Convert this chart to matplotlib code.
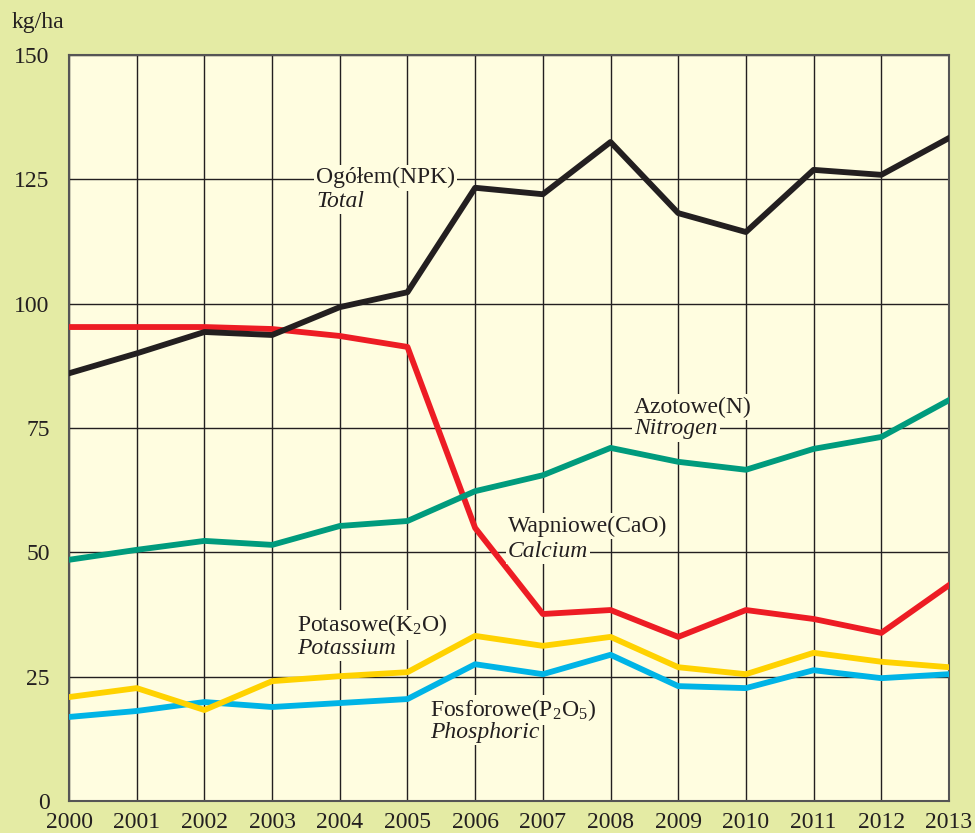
import matplotlib
matplotlib.use("Agg")
import matplotlib.pyplot as plt

years = list(range(2000, 2014))
npk = [86, 90, 94.3, 93.7, 99.3, 102.3, 123.3, 122, 132.5, 118.2, 114.4, 126.9, 125.9, 133.3]
cao = [95.3, 95.3, 95.3, 94.9, 93.5, 91.3, 54.9, 37.6, 38.4, 33, 38.4, 36.6, 33.8, 43.4]
nitrogen = [48.5, 50.5, 52.3, 51.5, 55.3, 56.3, 62.3, 65.5, 71, 68.2, 66.6, 70.8, 73.2, 80.6]
potassium = [20.9, 22.7, 18.3, 24.1, 25.1, 25.9, 33.2, 31.2, 33, 26.9, 25.5, 29.8, 28, 26.9]
phosphoric = [16.9, 18.1, 19.9, 18.9, 19.7, 20.5, 27.5, 25.5, 29.4, 23.1, 22.7, 26.3, 24.7, 25.5]
y_ticks = [0, 25, 50, 75, 100, 125, 150]

plt.rcParams["font.family"] = ["Liberation Serif", "DejaVu Serif"]
plt.rcParams["mathtext.fontset"] = "custom"
plt.rcParams["mathtext.rm"] = "Liberation Serif"
plt.rcParams["mathtext.it"] = "Liberation Serif:italic"

outer_bg = "#e4eba4"
inner_bg = "#fffde0"
text_col = "#231f20"
fs = 17

fig = plt.figure(figsize=(9.75, 8.33), dpi=100, facecolor=outer_bg)
ax = fig.add_axes([0.0708, 0.0384, 0.9025, 0.8956])
ax.set_facecolor(inner_bg)

lw = 4.2
ax.plot(years, cao, color="#ed1c24", lw=lw, zorder=3)
ax.plot(years, nitrogen, color="#009b7d", lw=lw, zorder=3)
ax.plot(years, phosphoric, color="#00b4e6", lw=lw, zorder=3)
ax.plot(years, potassium, color="#ffd200", lw=lw, zorder=3)
ax.plot(years, npk, color="#231f20", lw=lw, zorder=3)

ax.set_xlim(2000, 2013)
ax.set_ylim(0, 150)
ax.set_xticks(years)
ax.set_yticks(y_ticks)
ax.grid(True, color="#231f20", lw=1.0)
ax.set_axisbelow(True)
ax.tick_params(length=0, labelsize=fs, colors=text_col)
ax.tick_params(axis="x", pad=8)
ax.tick_params(axis="y", pad=14)
for s in ax.spines.values():
    s.set_color("#555555")
    s.set_linewidth(1.5)

fig.text(0.012, 0.973, "kg/ha", fontsize=fs, color=text_col, ha="left", va="center")

box = dict(facecolor=inner_bg, edgecolor="none", pad=1.5)
labels = [
    (2003.65, 125.3, "Ogółem(NPK)", "Total", 4.7),
    (2008.35, 79.2, "Azotowe(N)", "Nitrogen", 4.4),
    (2006.48, 55.3, "Wapniowe(CaO)", "Calcium", 5.2),
    (2003.37, 35.4, "Potasowe(K$_2$O)", "Potassium", 4.8),
    (2005.33, 18.3, "Fosforowe(P$_2$O$_5$)", "Phosphoric", 4.6),
]
for x, y, pl, en, dy in labels:
    ax.text(x, y, pl, fontsize=fs, color=text_col, ha="left", va="center",
            bbox=box, zorder=4)
    ax.text(x, y - dy, en, fontsize=fs, style="italic", color=text_col,
            ha="left", va="center", bbox=box, zorder=4)

fig.savefig("out.png", dpi=100, facecolor=outer_bg)
